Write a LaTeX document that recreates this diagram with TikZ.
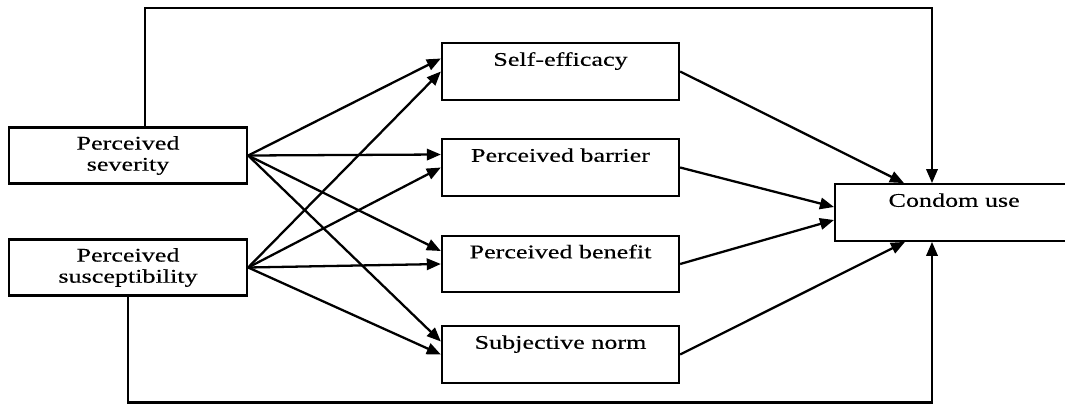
\documentclass[tikz,border=0pt]{standalone}
\usepackage{fontspec}
\setmainfont{Liberation Serif}[FakeStretch=1.35, FakeBold=0.4]
\usetikzlibrary{arrows.meta,calc}

\begin{document}
\begin{tikzpicture}[
  threat/.style={
    draw,
    line width=1.3pt,
    minimum width=4.76cm,
    minimum height=1.12cm,
    align=center,
    inner sep=1pt,
    font=\fontsize{11}{12}\selectfont
  },
  construct/.style={
    draw,
    line width=1.3pt,
    minimum width=4.74cm,
    minimum height=1.13cm,
    text height=8pt,
    text depth=14.5pt,
    inner sep=2pt,
    font=\fontsize{11}{12}\selectfont
  },
  line/.style={-{Triangle[length=8pt,width=6.5pt]}, line width=1.3pt}
]
\useasboundingbox (0,0) rectangle (21.3,-8.08);
\clip (0,0) rectangle (21.3,-8.08);

% Perceived threat
\node[threat] (sev) at (2.56,-3.11) {Perceived\\severity};
\node[threat] (sus) at (2.56,-5.35) {Perceived\\susceptibility};

% Mediators
\node[construct] (eff) at (11.21,-1.43) {Self-efficacy};
\node[construct] (bar) at (11.21,-3.35) {Perceived barrier};
\node[construct] (ben) at (11.21,-5.28) {Perceived benefit};
\node[construct] (norm) at (11.21,-7.09) {Subjective norm};

% Outcome (runs past the right edge)
\node[construct, minimum width=5.4cm, anchor=west] (use) at (16.68,-4.25) {Condom use\hspace*{0.64cm}};

% Severity to mediators
\foreach \m in {eff,bar,ben,norm}
  \draw[line] (sev.east) -- ($(\m.west)+(0,0.26)$);

% Susceptibility to mediators
\foreach \m in {eff,bar,ben,norm}
  \draw[line] (sus.east) -- (\m.west);

% Mediators to condom use
\draw[line] (eff.east) -- ($(use.north west)+(1.4,0)$);
\draw[line] (bar.east) -- ($(use.west)+(0,0.11)$);
\draw[line] (ben.east) -- ($(use.west)+(0,-0.15)$);
\draw[line] (norm.east) -- ($(use.south west)+(1.42,0)$);

% Direct paths
\coordinate (toprow) at (10,-0.16);
\coordinate (botrow) at (10,-8.05);
\draw[line] ($(sev.north)+(0.34,0)$) |- (toprow) -| ($(use.north west)+(1.96,0)$);
\draw[line] (sus.south) |- (botrow) -| ($(use.south west)+(1.96,0)$);

\end{tikzpicture}
\end{document}
